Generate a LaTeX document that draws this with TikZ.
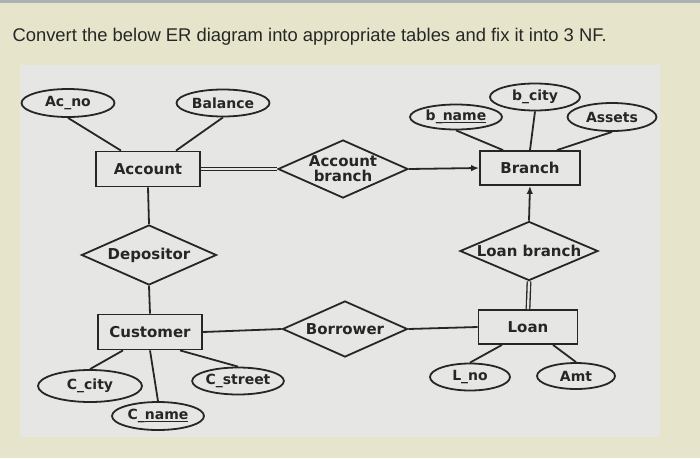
\documentclass[tikz,border=0pt]{standalone}
\usepackage{fontspec}
\setmainfont{Liberation Sans}
\newfontfamily\erfont{DejaVu Sans}
\usetikzlibrary{shapes.geometric,arrows.meta}

\definecolor{pagebg}{HTML}{E6E5CB}
\definecolor{panelbg}{HTML}{E6E6E4}
\definecolor{topbar}{HTML}{A9B1B6}
\definecolor{ink}{HTML}{262626}

\begin{document}
\begin{tikzpicture}[x=1pt, y=-1pt,
    entity/.style={draw=ink, rectangle, line width=1.8pt, minimum width=104pt, minimum height=35pt, inner sep=0pt, text=ink, font=\erfont\bfseries\fontsize{15}{15}\selectfont},
    attr/.style={draw=ink, ellipse, line width=1.8pt, minimum width=92pt, minimum height=27pt, inner sep=0pt, text=ink, font=\erfont\bfseries\fontsize{14}{15}\selectfont},
    rel/.style={draw=ink, diamond, aspect=2.2, line width=1.8pt, inner sep=0pt, text=ink, align=center, font=\erfont\bfseries\fontsize{15}{15}\selectfont},
    link/.style={draw=ink, line width=1.8pt},
    total/.style={draw=ink, line width=1.3pt, double=panelbg, double distance=2.2pt},
    arrow/.style={link, -{Latex[length=8pt,width=6.5pt]}}
]
\useasboundingbox (0,0) rectangle (700,458);

% Screen and panel
\fill[pagebg] (0,0) rectangle (700,458);
\fill[topbar] (0,0) rectangle (700,3);
\fill[panelbg] (20,65) rectangle (660,437);

\node[anchor=base west, text=ink, font=\fontsize{18.4}{20}\selectfont] (title) at (9,41.5)
    {Convert the below ER diagram into appropriate tables and fix it into 3 NF.};

% Entities
\node[entity] (account) at (148,169) {Account};
\node[entity, minimum width=100pt, minimum height=34pt] (branch) at (530,168) {Branch};
\node[entity] (customer) at (150,332) {Customer};
\node[entity, minimum width=99pt, minimum height=34pt] (loan) at (528,327) {Loan};

% Relationships
\node[rel, minimum width=130pt, minimum height=58pt] (accbranch) at (343,169) {Account\\branch};
\node[rel, minimum width=135pt, minimum height=60pt] (depositor) at (149,255) {Depositor};
\node[rel, minimum width=125pt, minimum height=56pt] (borrower) at (345,329) {Borrower};
\node[rel, minimum width=138pt, minimum height=58pt] (loanbranch) at (529,251) {Loan branch};

% Attributes
\node[attr, minimum width=93pt, minimum height=28pt] (acno) at (68,103) {Ac\_no};
\node[attr, minimum width=93pt] (balance) at (223,103) {Balance};
\node[attr, minimum height=25pt] (bname) at (456,117) {b\_\underline{name}};
\node[attr, minimum width=90pt] (bcity) at (535,97) {b\_city};
\node[attr, minimum width=89pt, minimum height=28pt] (assets) at (612,117) {Assets};
\node[attr, minimum width=104pt, minimum height=32pt] (ccity) at (90,386) {C\_city};
\node[attr, minimum height=28pt] (cname) at (158,416) {C\_\underline{name}};
\node[attr, minimum width=91pt] (cstreet) at (238,381) {C\_street};
\node[attr, minimum width=80pt] (lno) at (470,377) {L\_no};
\node[attr, minimum width=78pt, minimum height=26pt] (amt) at (576,376) {Amt};

% Attribute lines
\draw[link] (acno.south) -- ([xshift=-27pt]account.north);
\draw[link] (balance.south) -- ([xshift=28pt]account.north);
\draw[link] (bname.south) -- ([xshift=-27pt]branch.north);
\draw[link] (bcity.south) -- (branch.north);
\draw[link] (assets.south) -- ([xshift=27pt]branch.north);
\draw[link] (ccity.north) -- ([xshift=-27pt]customer.south);
\draw[link] (cname.north) -- (customer.south);
\draw[link] (cstreet.north) -- ([xshift=30pt]customer.south);
\draw[link] (lno.north) -- ([xshift=-26pt]loan.south);
\draw[link] (amt.north) -- ([xshift=25pt]loan.south);

% Relationship lines
\draw[total] (account.east) -- (accbranch.west);
\draw[arrow] (accbranch.east) -- (branch.west);
\draw[link] (account.south) -- (depositor.north);
\draw[link] (depositor.south) -- (customer.north);
\draw[link] (customer.east) -- (borrower.west);
\draw[link] (borrower.east) -- (loan.west);
\draw[arrow] (loanbranch.north) -- (branch.south);
\draw[total] (loanbranch.south) -- (loan.north);

\end{tikzpicture}
\end{document}
